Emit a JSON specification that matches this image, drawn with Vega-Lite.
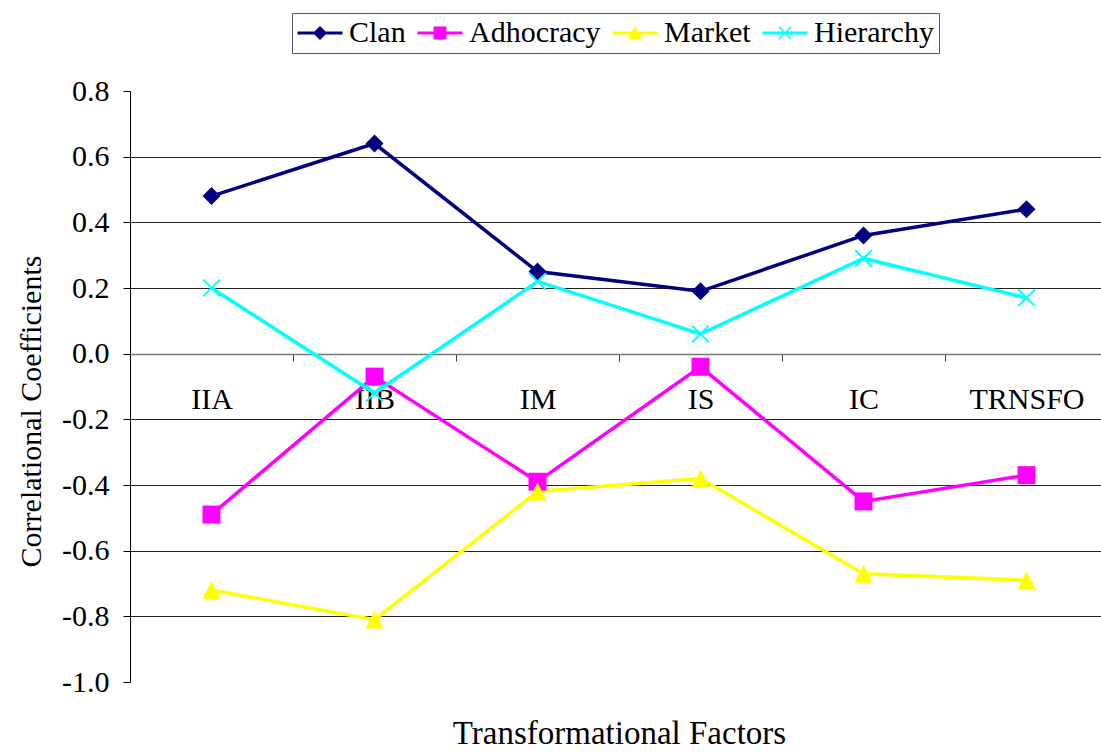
{
  "$schema": "https://vega.github.io/schema/vega-lite/v6.json",
  "width": 971,
  "height": 591,
  "autosize": {"type": "none"},
  "padding": {"left": 130, "top": 91, "right": 0, "bottom": 70},
  "background": "white",
  "config": {
    "view": {"stroke": null},
    "font": "Liberation Serif, Times New Roman, serif",
    "axis": {
      "labelFont": "Liberation Serif, Times New Roman, serif",
      "titleFont": "Liberation Serif, Times New Roman, serif",
      "labelColor": "black",
      "titleColor": "black",
      "titleFontWeight": "normal",
      "labelFontSize": 30
    },
    "legend": {"labelFont": "Liberation Serif, Times New Roman, serif"}
  },
  "data": {
    "values": [
      {"factor": "IIA", "type": "Clan", "r": 0.48},
      {"factor": "IIA", "type": "Adhocracy", "r": -0.49},
      {"factor": "IIA", "type": "Market", "r": -0.72},
      {"factor": "IIA", "type": "Hierarchy", "r": 0.2},
      {"factor": "IIB", "type": "Clan", "r": 0.64},
      {"factor": "IIB", "type": "Adhocracy", "r": -0.07},
      {"factor": "IIB", "type": "Market", "r": -0.81},
      {"factor": "IIB", "type": "Hierarchy", "r": -0.12},
      {"factor": "IM", "type": "Clan", "r": 0.25},
      {"factor": "IM", "type": "Adhocracy", "r": -0.39},
      {"factor": "IM", "type": "Market", "r": -0.42},
      {"factor": "IM", "type": "Hierarchy", "r": 0.22},
      {"factor": "IS", "type": "Clan", "r": 0.19},
      {"factor": "IS", "type": "Adhocracy", "r": -0.04},
      {"factor": "IS", "type": "Market", "r": -0.38},
      {"factor": "IS", "type": "Hierarchy", "r": 0.06},
      {"factor": "IC", "type": "Clan", "r": 0.36},
      {"factor": "IC", "type": "Adhocracy", "r": -0.45},
      {"factor": "IC", "type": "Market", "r": -0.67},
      {"factor": "IC", "type": "Hierarchy", "r": 0.29},
      {"factor": "TRNSFO", "type": "Clan", "r": 0.44},
      {"factor": "TRNSFO", "type": "Adhocracy", "r": -0.37},
      {"factor": "TRNSFO", "type": "Market", "r": -0.69},
      {"factor": "TRNSFO", "type": "Hierarchy", "r": 0.17}
    ]
  },
  "encoding": {
    "x": {
      "field": "factor",
      "type": "nominal",
      "sort": ["IIA", "IIB", "IM", "IS", "IC", "TRNSFO"],
      "scale": {"type": "band", "paddingInner": 0, "paddingOuter": 0, "range": [0, 978]},
      "axis": {
        "orient": "bottom",
        "offset": -328,
        "domain": true,
        "domainColor": "#777777",
        "domainWidth": 1.5,
        "ticks": true,
        "tickBand": "extent",
        "tickSize": 7,
        "tickColor": "#444444",
        "labelFont": "Liberation Serif, Times New Roman, serif",
        "labelFontSize": 30,
        "labelColor": "black",
        "labelPadding": 23,
        "labelAngle": 0,
        "grid": false,
        "title": "Transformational Factors",
        "titleFont": "Liberation Serif, Times New Roman, serif",
        "titleFontSize": 33,
        "titleFontWeight": "normal",
        "titleColor": "black",
        "titleY": 389,
        "titleBaseline": "alphabetic"
      }
    },
    "y": {
      "field": "r",
      "type": "quantitative",
      "scale": {"domain": [-1, 0.8], "nice": false, "zero": false},
      "axis": {
        "values": [-1, -0.8, -0.6, -0.4, -0.2, 0, 0.2, 0.4, 0.6, 0.8],
        "labelExpr": "replace(format(datum.value, '.1f'), '−', '-')",
        "labelFont": "Liberation Serif, Times New Roman, serif",
        "labelFontSize": 30,
        "labelColor": "black",
        "domain": true,
        "domainColor": "black",
        "tickColor": "black",
        "tickSize": 7,
        "labelPadding": 14,
        "grid": true,
        "gridColor": "#222222",
        "gridOpacity": {"condition": {"test": "datum.value > 0.7 || datum.value < -0.9", "value": 0}, "value": 1},
        "title": "Correlational Coefficients",
        "titleFont": "Liberation Serif, Times New Roman, serif",
        "titleFontSize": 30,
        "titleFontWeight": "normal",
        "titleColor": "black",
        "titleX": -90,
        "titleY": 320,
        "titleBaseline": "alphabetic"
      }
    },
    "color": {
      "field": "type",
      "type": "nominal",
      "scale": {
        "domain": ["Clan", "Adhocracy", "Market", "Hierarchy"],
        "range": ["#000080", "#FF00FF", "#FFFF00", "#00FFFF"]
      },
      "legend": null
    }
  },
  "layer": [
    {"mark": {"type": "line", "strokeWidth": 3.5}},
    {
      "mark": {"type": "point", "filled": true, "size": 324, "opacity": 1, "strokeWidth": 0},
      "encoding": {
        "shape": {
          "field": "type",
          "type": "nominal",
          "scale": {
            "domain": ["Clan", "Adhocracy", "Market", "Hierarchy"],
            "range": [
              "M0,-1L1,0L0,1L-1,0Z",
              "M-1,-1H1V1H-1Z",
              "M0,-1L1,1H-1Z",
              "M-1,-0.85L-0.85,-1L0,-0.15L0.85,-1L1,-0.85L0.15,0L1,0.85L0.85,1L0,0.15L-0.85,1L-1,0.85L-0.15,0Z"
            ]
          },
          "legend": null
        }
      }
    },
    {
      "mark": {"type": "point", "filled": true, "size": 900, "opacity": 0, "strokeWidth": 0},
      "encoding": {
        "shape": {
          "field": "type",
          "type": "nominal",
          "scale": {
            "domain": ["Clan", "Adhocracy", "Market", "Hierarchy"],
            "range": [
              "M-1.5,-0.1H1.5V0.1H-1.5ZM0,-0.47L0.47,0L0,0.47L-0.47,0Z",
              "M-1.5,-0.1H1.5V0.1H-1.5ZM-0.43,-0.43H0.43V0.43H-0.43Z",
              "M-1.5,-0.1H1.5V0.1H-1.5ZM0,-0.47L0.47,0.4H-0.47Z",
              "M-1.5,-0.1H1.5V0.1H-1.5ZM-0.45,-0.38L-0.38,-0.45L0,-0.07L0.38,-0.45L0.45,-0.38L0.07,0L0.45,0.38L0.38,0.45L0,0.07L-0.38,0.45L-0.45,0.38L-0.07,0Z"
            ]
          },
          "legend": {
            "title": null,
            "orient": "none",
            "legendX": 162,
            "legendY": -78,
            "direction": "horizontal",
            "strokeColor": "#555555",
            "padding": 5,
            "symbolSize": 900,
            "symbolOffset": 8,
            "symbolStrokeWidth": 0,
            "symbolOpacity": 1,
            "labelOffset": 14,
            "columnPadding": 11,
            "labelFont": "Liberation Serif, Times New Roman, serif",
            "labelFontSize": 30,
            "labelColor": "black",
            "labelLimit": 0
          }
        },
        "color": {
          "field": "type",
          "type": "nominal",
          "legend": {
            "title": null,
            "orient": "none",
            "legendX": 162,
            "legendY": -78,
            "direction": "horizontal",
            "strokeColor": "#555555",
            "padding": 5,
            "symbolSize": 900,
            "symbolOffset": 8,
            "symbolStrokeWidth": 0,
            "symbolOpacity": 1,
            "labelOffset": 14,
            "columnPadding": 11,
            "labelFont": "Liberation Serif, Times New Roman, serif",
            "labelFontSize": 30,
            "labelColor": "black",
            "labelLimit": 0
          }
        }
      }
    }
  ],
  "resolve": {
    "scale": {"shape": "independent"},
    "legend": {"color": "independent", "shape": "independent"}
  }
}
